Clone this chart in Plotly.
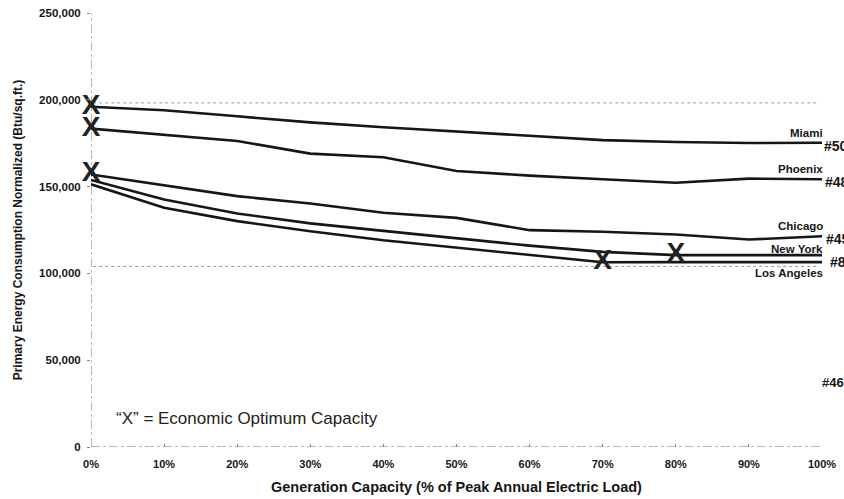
import plotly.graph_objects as go

# Generation capacity as % of peak annual electric load
capacity = [0, 10, 20, 30, 40, 50, 60, 70, 80, 90, 100]

# Normalized primary energy consumption (Btu/sq.ft.) per city
miami = [196000, 194000, 190500, 187000, 184200, 181600, 179000, 176800, 175700, 175100, 175300]
phoenix = [183400, 180000, 176300, 169000, 166900, 159000, 156300, 154200, 152200, 154600, 154200]
chicago = [157000, 150800, 144500, 140300, 134900, 132000, 124900, 124000, 122400, 119500, 121400]
new_york = [153800, 142600, 134500, 128800, 124500, 120300, 116000, 112400, 110500, 110500, 110500]
los_angeles = [151300, 137800, 130100, 124300, 119100, 114900, 110500, 106400, 106500, 106500, 106500]

cities = ["Miami", "Phoenix", "Chicago", "New York", "Los Angeles"]
series = [miami, phoenix, chicago, new_york, los_angeles]

# Economic optimum capacity for each city (index into capacity)
optimum_idx = [0, 0, 0, 8, 7]

# Building-type codes printed at the right edge
codes = ["#50", "#48", "#45", "#8"]

y_ticks = [0, 50000, 100000, 150000, 200000, 250000]
x_ticks = capacity

FONT = "Liberation Sans"
INK = "#161616"

fig = go.Figure()

for name, vals in zip(cities, series):
    fig.add_trace(go.Scatter(
        x=capacity, y=vals, mode="lines", name=name,
        line=dict(color=INK, width=2.6), showlegend=False,
        hoverinfo="skip",
    ))

# "X" marks at the economic optimum
fig.add_trace(go.Scatter(
    x=[capacity[i] for i in optimum_idx],
    y=[s[i] for s, i in zip(series, optimum_idx)],
    mode="text", text=["<b>X</b>"] * len(optimum_idx),
    textposition="middle center",
    textfont=dict(family=FONT, size=28, color="#222222"),
    showlegend=False, hoverinfo="skip", cliponaxis=False,
))

shapes = []
# Axis lines (light dash-dot rule)
shapes.append(dict(type="line", xref="x", yref="y", x0=0, x1=0, y0=0, y1=250000,
                   line=dict(color="#777777", width=1, dash="dashdot"), layer="below"))
shapes.append(dict(type="line", xref="x", yref="y", x0=0, x1=100.5, y0=0, y1=0,
                   line=dict(color="#777777", width=1, dash="dashdot"), layer="below"))
# Dotted reference lines
for yv in [198200, 104000]:
    shapes.append(dict(type="line", xref="x", yref="y", x0=0.3, x1=99.5, y0=yv, y1=yv,
                       line=dict(color="#999999", width=1, dash="dot"), layer="below"))

annotations = []
# City names, right-aligned at the line ends
name_pos = {
    "Miami": dict(y=miami[-1], yanchor="bottom", yshift=2),
    "Phoenix": dict(y=phoenix[-1], yanchor="bottom", yshift=2),
    "Chicago": dict(y=chicago[-1], yanchor="bottom", yshift=2),
    "New York": dict(y=new_york[-1], yanchor="bottom", yshift=-2),
    "Los Angeles": dict(y=los_angeles[-1], yanchor="top", yshift=-3),
}
for name in cities:
    p = name_pos[name]
    annotations.append(dict(
        x=100, xref="x", xanchor="right", xshift=3, text=f"<b>{name}</b>",
        showarrow=False, font=dict(family=FONT, size=11.5, color=INK), **p,
    ))

# Building codes just past the right end
code_y = [miami[-1], phoenix[-1], chicago[-1], (new_york[-1] + los_angeles[-1]) / 2]
code_shift = [0, 1, 2, 6]
for code, yv, xs in zip(codes, code_y, code_shift):
    annotations.append(dict(
        x=100, xref="x", y=yv, yref="y", xanchor="left", yanchor="middle",
        xshift=xs, yshift=-3, text=f"<b>{code}</b>", showarrow=False,
        font=dict(family=FONT, size=14, color=INK),
    ))
annotations.append(dict(
    x=100, xref="x", y=37000, yref="y", xanchor="left", yanchor="middle",
    xshift=-2, text="<b>#46</b>", showarrow=False,
    font=dict(family=FONT, size=13, color=INK),
))

annotations.append(dict(
    x=3.2, xref="x", y=16700, yref="y", xanchor="left", yanchor="middle",
    text="\u201cX\u201d = Economic Optimum Capacity", showarrow=False,
    font=dict(family=FONT, size=17, color="#222222"),
))

fig.update_layout(
    width=844, height=499,
    margin=dict(l=91, r=22, t=13, b=52),
    paper_bgcolor="white", plot_bgcolor="white",
    shapes=shapes, annotations=annotations,
    font=dict(family=FONT, color=INK),
)

fig.update_xaxes(
    range=[0, 100], tickmode="array", tickvals=x_ticks,
    ticktext=[f"<b>{v}%</b>" for v in x_ticks],
    tickfont=dict(family=FONT, size=11, color=INK),
    showgrid=False, zeroline=False, showline=False,
    ticks="inside", ticklen=3, tickcolor="#888888",
    ticklabelstandoff=9,
    title=dict(text="<b>Generation Capacity (% of Peak Annual Electric Load)</b>",
               font=dict(family=FONT, size=14.5, color=INK), standoff=12),
    automargin=False,
)
fig.update_yaxes(
    range=[0, 250000], tickmode="array", tickvals=y_ticks,
    ticktext=[f"<b>{v:,}</b>" for v in y_ticks],
    tickfont=dict(family=FONT, size=11.5, color=INK),
    showgrid=False, zeroline=False, showline=False,
    ticks="outside", ticklen=3, tickcolor="#888888",
    ticklabelstandoff=4,
    title=dict(text="<b>Primary Energy Consumption Normalized (Btu/sq.ft.)</b>",
               font=dict(family=FONT, size=12, color=INK), standoff=13),
    automargin=False,
)

fig.write_html("out.html")
